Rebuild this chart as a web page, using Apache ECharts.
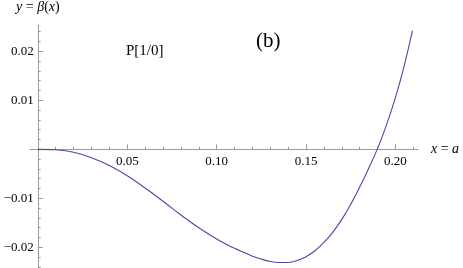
<!DOCTYPE html>
<html>
<head>
<meta charset="utf-8">
<script src="https://cdn.jsdelivr.net/npm/echarts@6/dist/echarts.min.js"></script>
<style>
html,body{margin:0;padding:0;background:#fff;}
#chart{width:463px;height:268px;}
</style>
</head>
<body>
<div id="chart"></div>
<script>
// ---- data ----
var xValues = [0, 0.01, 0.02, 0.03, 0.04, 0.05, 0.06, 0.07, 0.08, 0.09, 0.10, 0.105, 0.11, 0.115, 0.12, 0.125, 0.13, 0.135, 0.14, 0.145, 0.15, 0.155, 0.16, 0.165, 0.17, 0.175, 0.18, 0.185, 0.19, 0.195, 0.20, 0.205, 0.2095];
var yValues = [0, -0.0001, -0.0006, -0.0017, -0.0033, -0.0054, -0.0079, -0.0106, -0.0134, -0.0160, -0.0183, -0.0193, -0.0202, -0.0210, -0.0218, -0.0224, -0.0229, -0.0231, -0.0231, -0.0227, -0.0219, -0.0207, -0.0190, -0.0169, -0.0143, -0.0112, -0.0077, -0.0039, 0.0002, 0.0050, 0.0106, 0.0172, 0.0242];
var xTickLabels = [0.05, 0.10, 0.15, 0.20];
var xMinorTicks = [0.01, 0.02, 0.03, 0.04, 0.06, 0.07, 0.08, 0.09, 0.11, 0.12, 0.13, 0.14, 0.16, 0.17, 0.18, 0.19, 0.21];
var yTickLabels = [-0.02, -0.01, 0.01, 0.02];
var yMinorTicks = [-0.024, -0.022, -0.018, -0.016, -0.014, -0.012, -0.008, -0.006, -0.004, -0.002, 0.002, 0.004, 0.006, 0.008, 0.012, 0.014, 0.016, 0.018, 0.022, 0.024];
var xAxisName = '{i|x} = {i|a}';
var yAxisName = '{i|y} = {i|\u03b2}({i|x})';
var panelLabel = 'P[1/0]';
var panelTag = '(b)';

var seriesData = xValues.map(function (x, i) { return [x, yValues[i]]; });

var axisColor = '#9a9a9a';
var serif = "'Liberation Serif', 'Times New Roman', serif";
var X_MIN = -0.0044, X_MAX = 0.2126, Y_MIN = -0.0245, Y_MAX = 0.02537;
var G_LEFT = 30, G_TOP = 25, G_W = 388, G_H = 244.4;
// axes cross at the origin: shift them from the grid edges to the zero lines
var yAxisOffset = -G_W * (0 - X_MIN) / (X_MAX - X_MIN);
var xAxisOffset = -G_H * (0 - Y_MIN) / (Y_MAX - Y_MIN);

var chart = echarts.init(document.getElementById('chart'), null, {renderer: 'canvas'});
chart.setOption({
  animation: false,
  backgroundColor: '#ffffff',
  textStyle: {fontFamily: serif},
  grid: {left: G_LEFT, top: G_TOP, width: G_W, height: G_H, containLabel: false, outerBoundsMode: 'none'},
  xAxis: [{
    type: 'value', min: X_MIN, max: X_MAX, position: 'bottom', offset: xAxisOffset,
    axisLine: {show: true, onZero: false, lineStyle: {color: axisColor, width: 1}},
    axisTick: {show: true, inside: true, length: 5, customValues: xTickLabels, lineStyle: {color: axisColor}},
    axisLabel: {show: true, customValues: xTickLabels, margin: 6, color: '#000', fontFamily: serif, fontSize: 13,
      formatter: function (v) { return v.toFixed(2); }},
    splitLine: {show: false},
    name: xAxisName, nameLocation: 'end', nameGap: 13,
    nameTextStyle: {color: '#000', fontFamily: serif, fontSize: 14, verticalAlign: 'middle',
      rich: {i: {fontStyle: 'italic', fontFamily: serif, fontSize: 14, color: '#000'}}}
  }, {
    type: 'value', min: X_MIN, max: X_MAX, position: 'bottom', offset: xAxisOffset,
    axisLine: {show: false, onZero: false},
    axisTick: {show: true, inside: true, length: 2.6, customValues: xMinorTicks, lineStyle: {color: axisColor}},
    axisLabel: {show: false},
    splitLine: {show: false}
  }],
  yAxis: [{
    type: 'value', min: Y_MIN, max: Y_MAX, position: 'left', offset: yAxisOffset,
    axisLine: {show: true, onZero: false, lineStyle: {color: axisColor, width: 1}},
    axisTick: {show: true, inside: true, length: 5, customValues: yTickLabels, lineStyle: {color: axisColor}},
    axisLabel: {show: true, customValues: yTickLabels, margin: 4, color: '#000', fontFamily: serif, fontSize: 13,
      formatter: function (v) { return (v < 0 ? '\u2212' : '') + Math.abs(v).toFixed(2); }},
    splitLine: {show: false},
    name: yAxisName, nameLocation: 'end', nameGap: 11,
    nameTextStyle: {color: '#000', fontFamily: serif, fontSize: 14,
      rich: {i: {fontStyle: 'italic', fontFamily: serif, fontSize: 14, color: '#000'}}}
  }, {
    type: 'value', min: Y_MIN, max: Y_MAX, position: 'left', offset: yAxisOffset,
    axisLine: {show: false, onZero: false},
    axisTick: {show: true, inside: true, length: 2.8, customValues: yMinorTicks, lineStyle: {color: axisColor}},
    axisLabel: {show: false},
    splitLine: {show: false}
  }],
  series: [{
    type: 'line', xAxisIndex: 0, yAxisIndex: 0,
    data: seriesData, smooth: 0.35, showSymbol: false, symbol: 'none',
    lineStyle: {color: '#4848aa', width: 1.1}
  }],
  graphic: [
    {type: 'text', left: 126, top: 44, style: {text: panelLabel, font: "15px 'Liberation Serif'", fill: '#000'}},
    {type: 'text', left: 256, top: 31, style: {text: panelTag, font: "21px 'Liberation Serif'", fill: '#000'}}
  ]
});
</script>
</body>
</html>
